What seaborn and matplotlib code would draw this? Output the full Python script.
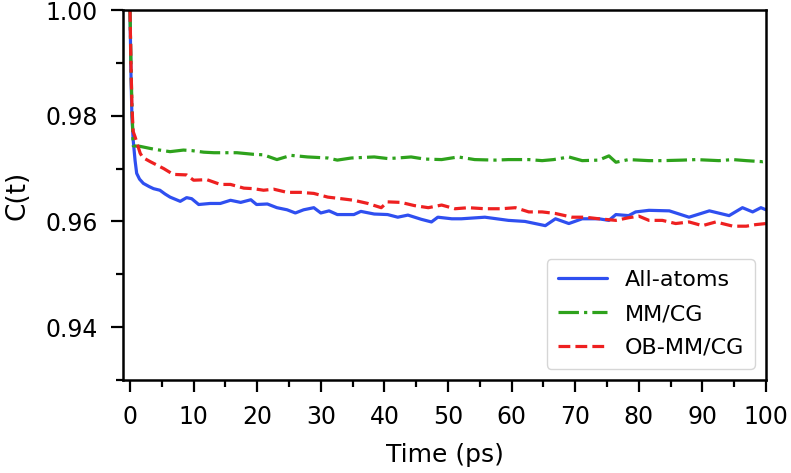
import numpy as np
import pandas as pd
import seaborn as sns
import matplotlib.pyplot as plt
from matplotlib.ticker import MultipleLocator

# values
t_all = [0, 0.15, 0.3, 0.5, 0.8, 1.05, 1.5, 2.1, 3.0, 3.7, 4.7, 5.5, 6.3, 7.9, 8.9, 9.7,
         10.8, 12.6, 14.2, 15.8, 17.4, 19.0, 19.9, 21.6, 23.1, 24.7, 26.0, 27.3, 28.9,
         30.0, 31.3, 32.6, 35.2, 36.3, 38.4, 40.5, 42.1, 43.7, 45.8, 47.4, 48.4, 50.6,
         52.1, 55.8, 59.5, 62.1, 65.3, 66.9, 69.0, 71.1, 73.7, 75.3, 76.4, 78.4, 79.5,
         81.6, 84.8, 87.9, 91.1, 94.2, 96.3, 97.9, 99.2, 100]
c_all = [1.0, 0.988, 0.980, 0.9754, 0.9715, 0.9691, 0.9680, 0.9672, 0.9666, 0.9662,
         0.9659, 0.9652, 0.9646, 0.9638, 0.9645, 0.9643, 0.9632, 0.9634, 0.9634, 0.9640,
         0.9636, 0.9641, 0.9632, 0.9633, 0.9626, 0.9622, 0.9616, 0.9622, 0.9626, 0.9616,
         0.9620, 0.9613, 0.9613, 0.9619, 0.9614, 0.9613, 0.9608, 0.9612, 0.9604, 0.9599,
         0.9608, 0.9605, 0.9605, 0.9608, 0.9602, 0.9600, 0.9592, 0.9605, 0.9596, 0.9605,
         0.9605, 0.9602, 0.9613, 0.9611, 0.9618, 0.9621, 0.9620, 0.9608, 0.9620, 0.9611,
         0.9626, 0.9618, 0.9626, 0.9622]

t_mmcg = [0, 0.15, 0.3, 0.5, 1.6, 3.2, 4.1, 6.3, 8.4, 9.7, 11.6, 13.2, 15.3, 16.8, 19.4,
          21.0, 23.1, 25.3, 27.9, 31.1, 32.6, 34.8, 38.4, 40.5, 42.1, 44.2, 46.3, 49.0,
          51.6, 54.2, 57.4, 59.5, 62.7, 64.8, 66.6, 69.0, 71.1, 73.7, 75.3, 76.4, 78.4,
          81.6, 83.7, 86.9, 89.0, 92.6, 94.8, 96.9, 99.5, 100]
c_mmcg = [1.0, 0.990, 0.982, 0.9743, 0.9742, 0.9738, 0.9736, 0.9732, 0.9735, 0.9734,
          0.9731, 0.9730, 0.9730, 0.9730, 0.9727, 0.9726, 0.9717, 0.9725, 0.9722, 0.9720,
          0.9716, 0.9720, 0.9722, 0.9719, 0.9720, 0.9722, 0.9718, 0.9717, 0.9722, 0.9717,
          0.9716, 0.9717, 0.9717, 0.9715, 0.9717, 0.9722, 0.9715, 0.9716, 0.9724, 0.9712,
          0.9717, 0.9715, 0.9715, 0.9716, 0.9717, 0.9715, 0.9717, 0.9715, 0.9713, 0.9714]

t_ob = [0, 0.15, 0.3, 0.5, 0.8, 1.6, 2.0, 3.2, 5.3, 6.8, 8.9, 10.0, 12.1, 14.2, 15.8,
        17.9, 19.4, 21.0, 22.6, 24.7, 26.8, 28.9, 31.1, 33.2, 35.2, 37.4, 39.5, 40.5,
        42.6, 44.7, 46.9, 49.0, 51.1, 53.2, 55.8, 58.4, 60.6, 62.7, 64.8, 66.9, 69.5,
        71.6, 73.7, 76.4, 78.4, 80.0, 81.6, 83.7, 85.8, 87.9, 90.0, 92.1, 94.8, 96.9,
        98.4, 100]
c_ob = [1.0, 0.990, 0.982, 0.977, 0.976, 0.9729, 0.9721, 0.9713, 0.9700, 0.9689, 0.9688,
        0.9678, 0.9679, 0.9670, 0.9670, 0.9663, 0.9662, 0.9659, 0.9661, 0.9655, 0.9655,
        0.9653, 0.9646, 0.9643, 0.9640, 0.9634, 0.9626, 0.9637, 0.9636, 0.9630, 0.9626,
        0.9631, 0.9624, 0.9626, 0.9624, 0.9624, 0.9626, 0.9618, 0.9618, 0.9615, 0.9608,
        0.9608, 0.9605, 0.9602, 0.9607, 0.9610, 0.9602, 0.9602, 0.9596, 0.9599, 0.9592,
        0.9599, 0.9591, 0.9591, 0.9594, 0.9596]

labels = ['All-atoms', 'MM/CG', 'OB-MM/CG']
colors = ['#2f4ff0', '#2ea21c', '#ee2020']
styles = ['-', '-.', '--']

sns.set_style('ticks')
plt.rcParams['font.family'] = ['DejaVu Sans']
plt.rcParams['text.color'] = 'black'
plt.rcParams['axes.labelcolor'] = 'black'
plt.rcParams['xtick.color'] = 'black'
plt.rcParams['ytick.color'] = 'black'

fig, ax = plt.subplots(figsize=(7.91, 4.73), dpi=100)
fig.subplots_adjust(left=123 / 791, right=766 / 791, top=1 - 10 / 473, bottom=1 - 380 / 473)

series = [(t_all, c_all), (t_mmcg, c_mmcg), (t_ob, c_ob)]
for (t, c), lab, col, ls in zip(series, labels, colors, styles):
    df = pd.DataFrame({'t': t, 'c': c})
    sns.lineplot(data=df, x='t', y='c', ax=ax, color=col, linestyle=ls,
                 linewidth=2.3, label=lab, sort=False)

ax.set_xlim(-1.1, 100)
ax.set_ylim(0.93, 1.0)
ax.set_xticks(np.arange(0, 101, 10))
ax.xaxis.set_minor_locator(MultipleLocator(5))
ax.set_yticks([0.94, 0.96, 0.98, 1.00])
ax.set_yticklabels(['0.94', '0.96', '0.98', '1.00'])
ax.set_yticks([0.93, 0.95, 0.97, 0.99], minor=True)

for sp in ax.spines.values():
    sp.set_linewidth(1.8)
    sp.set_color('black')
ax.tick_params(which='major', direction='out', length=8.5, width=1.6, labelsize=17,
               pad=9.5, top=False, right=False)
ax.tick_params(which='minor', direction='out', length=5, width=1.6, top=False, right=False)

ax.set_xlabel('Time (ps)', fontsize=18, labelpad=10)
ax.set_ylabel('C(t)', fontsize=19, labelpad=11)

leg = ax.legend(loc='lower right', fontsize=16, frameon=True, fancybox=True,
                borderpad=0.5, handlelength=2.2, labelspacing=0.62)
for txt in leg.get_texts():
    txt.set_color('black')

fig.savefig('out.png', dpi=100)
